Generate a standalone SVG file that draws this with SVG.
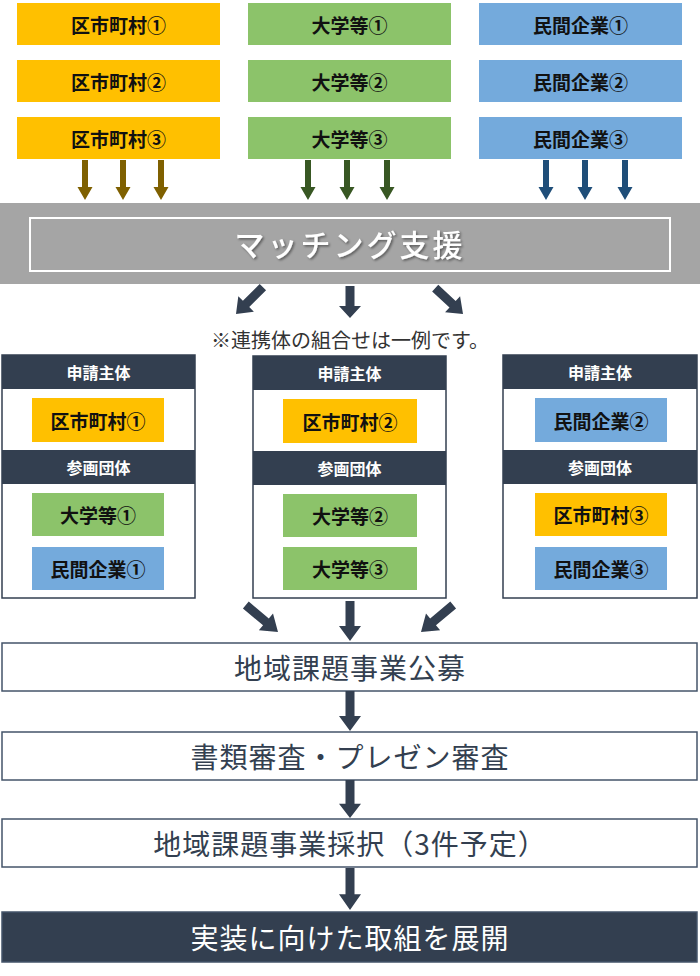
<svg xmlns="http://www.w3.org/2000/svg" width="700" height="976" viewBox="0 0 700 976">
<style>
text{font-family:"Noto Sans CJK JP","Noto Sans",sans-serif;text-anchor:middle;dominant-baseline:central}
.org{fill:#FFC000}
.grn{fill:#8CC36A}
.blu{fill:#74AADC}
.lbl{font-size:19px;font-weight:bold;fill:#111}
.hdr{fill:#333F50}
.hdrt{font-size:16px;font-weight:bold;fill:#fff}
.panel{fill:#fff;stroke:#333F50;stroke-width:1.5}
.flow{fill:#fff;stroke:#44546A;stroke-width:1.5}
.flowt{font-size:28px;fill:#333F50;letter-spacing:1px}
.nav{fill:#333F50}
</style>
<defs>
<path id="sa" d="M-3,-40 L3,-40 L3,-13 L7.5,-13 L0,0 L-7.5,-13 L-3,-13 Z"/>
<path id="ba" d="M-4.5,-40 L4.5,-40 L4.5,-15 L11,-15 L0,0 L-11,-15 L-4.5,-15 Z"/>
<filter id="sh" x="-10%" y="-30%" width="120%" height="160%">
<feDropShadow dx="1.5" dy="1.5" stdDeviation="1" flood-color="#000" flood-opacity="0.45"/>
</filter>
</defs>

<g id="top-orange">
<rect class="org" x="17" y="3" width="203" height="42"/><text class="lbl" x="118.5" y="24">区市町村①</text>
<rect class="org" x="17" y="60" width="203" height="42"/><text class="lbl" x="118.5" y="81">区市町村②</text>
<rect class="org" x="17" y="117" width="203" height="42"/><text class="lbl" x="118.5" y="138">区市町村③</text>
</g>
<g id="top-green">
<rect class="grn" x="248" y="3" width="203" height="42"/><text class="lbl" x="349.5" y="24">大学等①</text>
<rect class="grn" x="248" y="60" width="203" height="42"/><text class="lbl" x="349.5" y="81">大学等②</text>
<rect class="grn" x="248" y="117" width="203" height="42"/><text class="lbl" x="349.5" y="138">大学等③</text>
</g>
<g id="top-blue">
<rect class="blu" x="479" y="3" width="203" height="42"/><text class="lbl" x="580.5" y="24">民間企業①</text>
<rect class="blu" x="479" y="60" width="203" height="42"/><text class="lbl" x="580.5" y="81">民間企業②</text>
<rect class="blu" x="479" y="117" width="203" height="42"/><text class="lbl" x="580.5" y="138">民間企業③</text>
</g>

<g id="matching">
<rect x="0" y="203" width="700" height="81" fill="#A5A5A5"/>
<rect x="30" y="218" width="640" height="53" fill="none" stroke="#fff" stroke-width="2"/>
<text x="350" y="243" font-size="30" font-weight="500" fill="#fff" letter-spacing="3" filter="url(#sh)">マッチング支援</text>
</g>

<text id="note" x="350" y="339" font-size="20" fill="#333">※連携体の組合せは一例です。</text>

<g id="panel-1">
<rect class="panel" x="2" y="355" width="193" height="243"/>
<rect class="hdr" x="2" y="355" width="193" height="34"/><text class="hdrt" x="98.5" y="372">申請主体</text>
<rect class="hdr" x="2" y="450" width="193" height="34"/><text class="hdrt" x="98.5" y="467">参画団体</text>
<rect class="org" x="32" y="398" width="132" height="44"/><text class="lbl" x="98" y="420">区市町村①</text>
<rect class="grn" x="32" y="493" width="132" height="43"/><text class="lbl" x="98" y="514.5">大学等①</text>
<rect class="blu" x="32" y="547" width="132" height="43"/><text class="lbl" x="98" y="568.5">民間企業①</text>
</g>
<g id="panel-2">
<rect class="panel" x="253" y="356" width="193" height="242"/>
<rect class="hdr" x="253" y="356" width="193" height="34"/><text class="hdrt" x="349.5" y="373">申請主体</text>
<rect class="hdr" x="253" y="451" width="193" height="34"/><text class="hdrt" x="349.5" y="468">参画団体</text>
<rect class="org" x="283" y="399" width="134" height="44"/><text class="lbl" x="350" y="421">区市町村②</text>
<rect class="grn" x="283" y="494" width="134" height="43"/><text class="lbl" x="350" y="515.5">大学等②</text>
<rect class="grn" x="283" y="547" width="134" height="43"/><text class="lbl" x="350" y="568.5">大学等③</text>
</g>
<g id="panel-3">
<rect class="panel" x="503" y="355" width="194" height="243"/>
<rect class="hdr" x="503" y="355" width="194" height="34"/><text class="hdrt" x="600" y="372">申請主体</text>
<rect class="hdr" x="503" y="450" width="194" height="34"/><text class="hdrt" x="600" y="467">参画団体</text>
<rect class="blu" x="535" y="398" width="132" height="44"/><text class="lbl" x="601" y="420">民間企業②</text>
<rect class="org" x="535" y="493" width="132" height="43"/><text class="lbl" x="601" y="514.5">区市町村③</text>
<rect class="blu" x="535" y="547" width="132" height="43"/><text class="lbl" x="601" y="568.5">民間企業③</text>
</g>

<g id="flow-1"><rect class="flow" x="2" y="643" width="695" height="48"/><text class="flowt" x="350" y="667">地域課題事業公募</text></g>
<g id="flow-2"><rect class="flow" x="2" y="732" width="695" height="48"/><text class="flowt" x="350" y="756">書類審査・プレゼン審査</text></g>
<g id="flow-3"><rect class="flow" x="2" y="819" width="695" height="48"/><text class="flowt" x="350" y="843">地域課題事業採択（3件予定）</text></g>
<g id="flow-4"><rect x="2" y="912" width="695" height="50" fill="#333F50" stroke="#44546A" stroke-width="1.5"/><text class="flowt" x="350" y="937" style="fill:#fff">実装に向けた取組を展開</text></g>

<g id="connectors">
<use href="#sa" fill="#7F6000" transform="translate(85,200)"/>
<use href="#sa" fill="#7F6000" transform="translate(123,200)"/>
<use href="#sa" fill="#7F6000" transform="translate(161,200)"/>
<use href="#sa" fill="#385723" transform="translate(308,200)"/>
<use href="#sa" fill="#385723" transform="translate(347,200)"/>
<use href="#sa" fill="#385723" transform="translate(387,200)"/>
<use href="#sa" fill="#1F4E79" transform="translate(546,200)"/>
<use href="#sa" fill="#1F4E79" transform="translate(585,200)"/>
<use href="#sa" fill="#1F4E79" transform="translate(625,200)"/>

<use href="#ba" class="nav" transform="translate(236,314) rotate(45) scale(1,0.95)"/>
<use href="#ba" class="nav" transform="translate(350,318) scale(1,0.8)"/>
<use href="#ba" class="nav" transform="translate(463,314) rotate(-47) scale(1,0.95)"/>

<use href="#ba" class="nav" transform="translate(278,632) rotate(-50) scale(1,1.05)"/>
<use href="#ba" class="nav" transform="translate(350,641) scale(1,1)"/>
<use href="#ba" class="nav" transform="translate(421,632) rotate(50) scale(1,1.05)"/>

<use href="#ba" class="nav" transform="translate(350,731) scale(1,1)"/>
<use href="#ba" class="nav" transform="translate(350,818) scale(1,0.95)"/>
<use href="#ba" class="nav" transform="translate(350,910) scale(1,1.05)"/>
</g>
</svg>
